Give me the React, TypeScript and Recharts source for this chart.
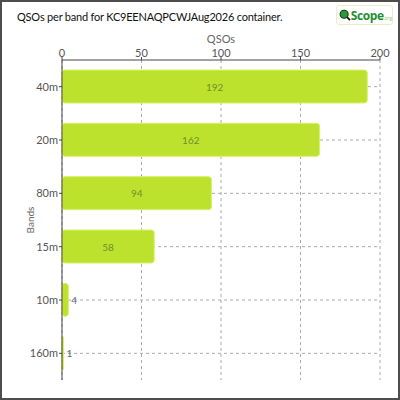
import React from "react";
import {
  BarChart,
  Bar,
  XAxis,
  YAxis,
  CartesianGrid,
  LabelList,
  Label,
} from "recharts";

const bands = ["40m", "20m", "80m", "15m", "10m", "160m"];
const qsos = [192, 162, 94, 58, 4, 1];
const xTicks = [0, 50, 100, 150, 200];

const chartData = bands.map((band, i) => ({ band, qsos: qsos[i] }));

const FONT = "Lato, 'Noto Sans', sans-serif";

const BarValue = (props: any) => {
  const { x, y, width, height, value } = props;
  // short bars get the number beside them
  if (width < 20) {
    return (
      <text
        x={x + width + 3}
        y={y + height / 2}
        dominantBaseline="central"
        fontSize={10}
        fill="#5a6b78"
        fontFamily={FONT}
      >
        {value}
      </text>
    );
  }
  return (
    <text
      x={x + width / 2}
      y={y + height / 2}
      textAnchor="middle"
      dominantBaseline="central"
      fontSize={10}
      fill="#6f8f2c"
      fontFamily={FONT}
    >
      {value}
    </text>
  );
};

const BandsLabel = (props: any) => {
  const { viewBox } = props;
  const cx = viewBox.x + 10;
  const cy = viewBox.y + viewBox.height / 2;
  return (
    <text
      x={cx}
      y={cy}
      transform={`rotate(-90 ${cx} ${cy})`}
      textAnchor="middle"
      dominantBaseline="central"
      fontSize={10}
      fill="#666"
      fontFamily={FONT}
    >
      Bands
    </text>
  );
};

const Logo = () => (
  <div
    style={{
      position: "absolute",
      left: 334,
      top: 3,
      width: 57,
      height: 20,
      border: "1px solid #e6efc9",
      borderRadius: 3,
      background: "#fff",
      display: "flex",
      alignItems: "center",
      paddingLeft: 2,
      boxSizing: "border-box",
    }}
  >
    <svg width={16} height={16} viewBox="0 0 16 16">
      <line x1={9} y1={9} x2={15} y2={15} stroke="#111" strokeWidth={2.4} />
      <circle cx={7} cy={7} r={5.5} fill="#2f9a3c" stroke="#0d3d12" strokeWidth={1.5} />
    </svg>
    <span
      style={{
        fontFamily: "'Open Sans', sans-serif",
        fontWeight: 700,
        fontSize: 12,
        color: "#1f8f2f",
        letterSpacing: -0.4,
      }}
    >
      Scope
    </span>
    <span style={{ fontFamily: FONT, fontSize: 5, color: "#9c6", marginTop: 5 }}>.org</span>
  </div>
);

export default function App() {
  return (
    <div
      style={{
        position: "absolute",
        left: 0,
        top: 0,
        width: 400,
        height: 400,
        background: "#fff",
        border: "2px solid #4d4d4d",
        boxSizing: "border-box",
        fontFamily: FONT,
      }}
    >
      <div
        style={{
          position: "absolute",
          left: 15,
          top: 8,
          fontSize: 11,
          color: "#111",
          fontFamily: FONT,
          letterSpacing: -0.2,
        }}
      >
        QSOs per band for KC9EENAQPCWJAug2026 container.
      </div>
      <Logo />
      <div style={{ position: "absolute", left: -2, top: -2 }}>
        <BarChart
          width={400}
          height={400}
          data={chartData}
          layout="vertical"
          margin={{ top: 30, right: 20, bottom: 20, left: 20 }}
          barSize={33}
        >
          <CartesianGrid stroke="#aaa" strokeDasharray="3 3" syncWithTicks />
          <XAxis
            type="number"
            orientation="top"
            domain={[0, 200]}
            ticks={xTicks}
            height={30}
            tickSize={3}
            tickMargin={0}
            stroke="#444"
            tick={{ fontSize: 11, fill: "#555", fontFamily: FONT }}
          >
            <Label
              value="QSOs"
              position="insideTop"
              offset={5}
              fontSize={11}
              fill="#666"
              fontFamily={FONT}
            />
          </XAxis>
          <YAxis
            type="category"
            dataKey="band"
            width={42}
            tickSize={3}
            tickMargin={1}
            stroke="#444"
            tick={{ fontSize: 11, fill: "#555", fontFamily: FONT }}
          >
            <Label content={<BandsLabel />} />
          </YAxis>
          <Bar
            dataKey="qsos"
            fill="#bde22e"
            stroke="#d9f06a"
            strokeWidth={1}
            radius={3}
            isAnimationActive={false}
          >
            <LabelList dataKey="qsos" content={<BarValue />} />
          </Bar>
        </BarChart>
      </div>
    </div>
  );
}
